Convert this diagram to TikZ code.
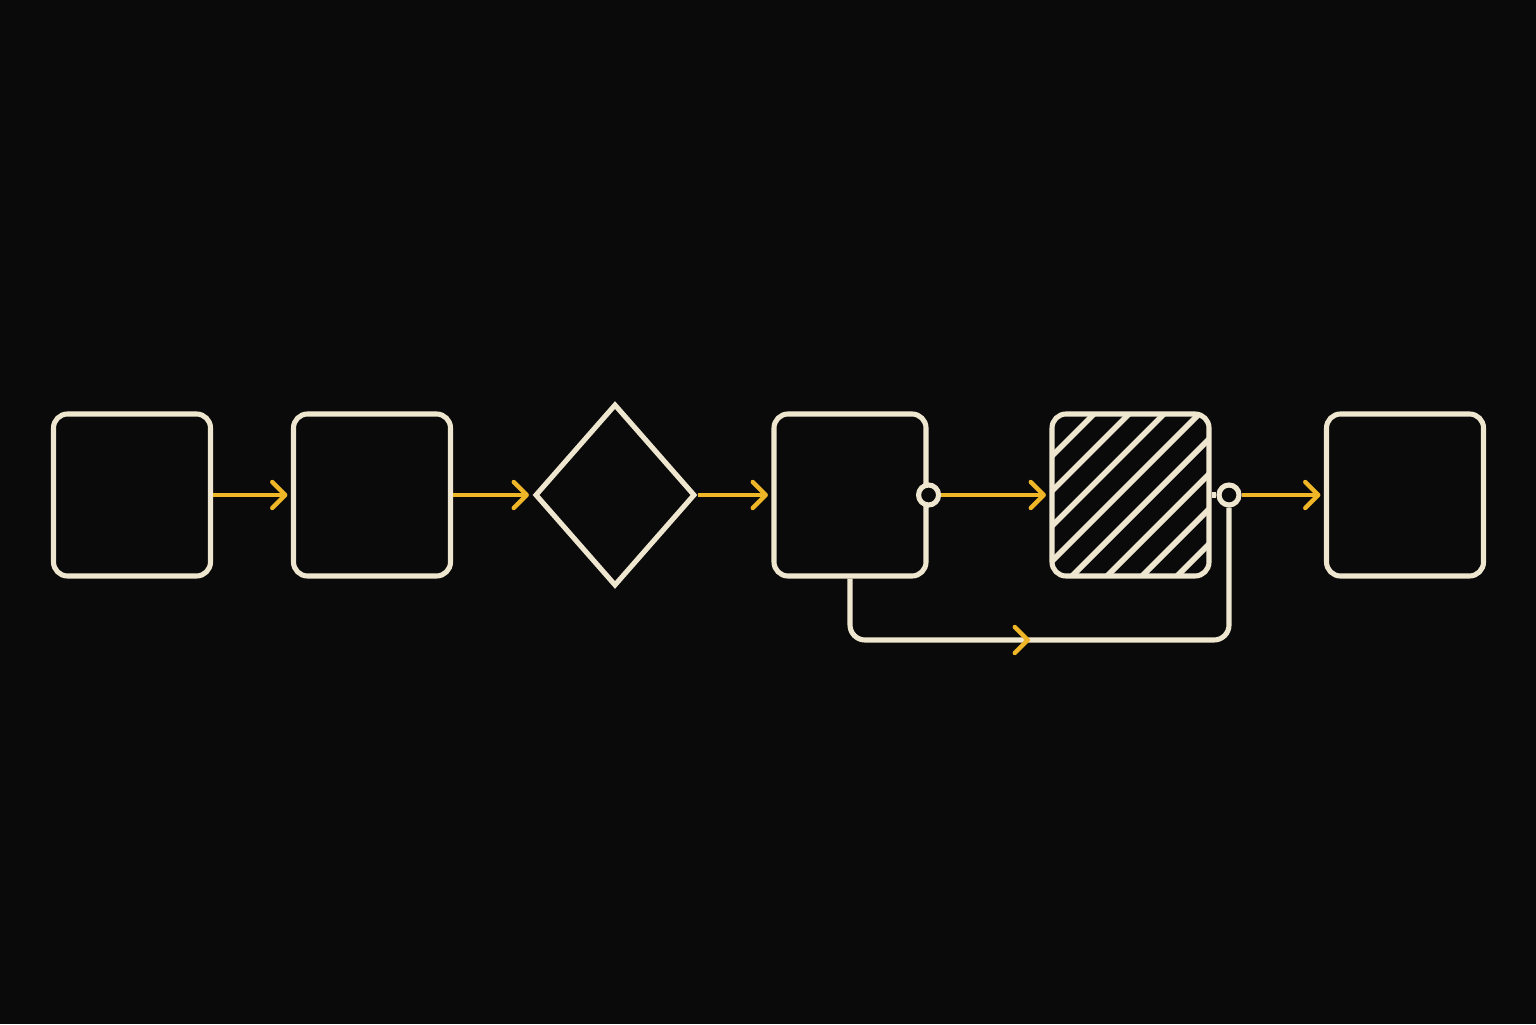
\documentclass[tikz,border=0pt]{standalone}
\usetikzlibrary{arrows.meta,shapes.geometric}
\definecolor{bg}{HTML}{0A0A0A}
\definecolor{cream}{HTML}{EEE6CF}
\definecolor{amber}{HTML}{EFB628}
\tikzset{
  box/.style={draw=cream, line width=1.45pt, rounded corners=0.14cm, minimum width=1.57cm, minimum height=1.62cm, inner sep=0pt},
  decision/.style={diamond, draw=cream, line width=1.45pt, minimum width=1.6cm, minimum height=1.82cm, inner sep=0pt},
  port/.style={circle, draw=cream, fill=bg, line width=1.45pt, minimum size=0.2cm, inner sep=0pt},
  hatched/.style={path picture={
    \foreach \k in {0,...,9}
      \draw[cream, line width=1.6pt] ([xshift=\k*0.35cm+0.07cm]path picture bounding box.north west) -- ++(-2,-2);
  }},
  flow/.style={amber, line width=1.25pt, shorten >=1pt, -{Straight Barb[length=0.13cm, width=0.26cm, line cap=round, line join=round]}},
  link/.style={cream, line width=1.45pt}
}
\begin{document}
\begin{tikzpicture}
% background
\fill[bg] (0,0) rectangle (15.36,10.24);
% the six steps
\node[box] (a) at (1.32,5.29) {};
\node[box] (b) at (3.72,5.29) {};
\node[decision] (c) at (6.15,5.29) {};
\node[box, minimum width=1.52cm] (d) at (8.50,5.29) {};
\node[box, hatched] (e) at (11.305,5.29) {};
\node[box] (f) at (14.05,5.29) {};
% ports
\node[port] (pd) at (d.east) {};
\node[port] (pe) at (12.29,5.29) {};
\draw[link] (e.east) -- (pe.west);
% main flow
\draw[flow] (a) -- (b);
\draw[flow] (b) -- (c);
\draw[flow] (c) -- (d);
\draw[flow] (pd) -- (e);
\draw[flow] (pe) -- (f);
% bypass under the hatched step
\coordinate (loop) at (10.30,3.84);
\draw[link, rounded corners=0.15cm] (d.south) |- (loop) -| (pe.south);
\draw[flow, shorten >=0pt] ([xshift=-0.05cm]loop) -- (loop);
\end{tikzpicture}
\end{document}
